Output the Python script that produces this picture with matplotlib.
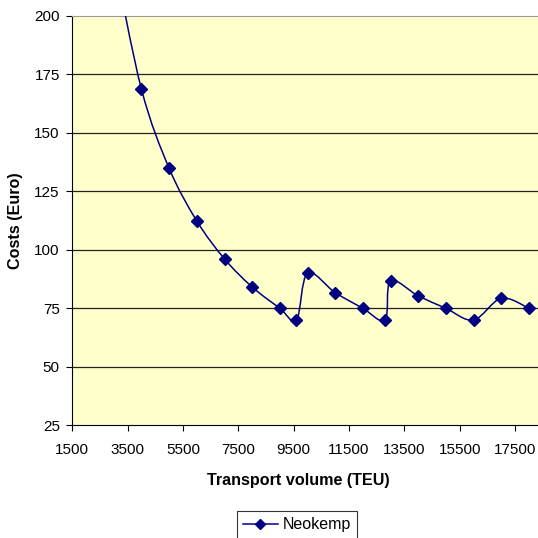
import matplotlib
matplotlib.use("Agg")
import matplotlib.pyplot as plt
from matplotlib.path import Path
from matplotlib.patches import PathPatch
from matplotlib.lines import Line2D

plt.rcParams['font.family'] = ['Liberation Sans', 'DejaVu Sans']

# data
volume = [3000, 4000, 5000, 6000, 7000, 8000, 9000, 9600, 10000, 11000,
          12000, 12800, 13000, 14000, 15000, 16000, 17000, 18000]
costs = [225, 168.6, 134.8, 112.3, 96.1, 84.1, 75, 70, 90, 81.7,
         75, 70, 86.7, 80.3, 75, 70, 79.3, 75]
xticks = [1500, 3500, 5500, 7500, 9500, 11500, 13500, 15500, 17500]
yticks = [25, 50, 75, 100, 125, 150, 175, 200]

navy = '#000080'


def smooth_path(xs, ys, k=1.0 / 6):
    # excel-like smoothed line: cubic bezier through every point
    pts = list(zip(xs, ys))
    verts = [pts[0]]
    codes = [Path.MOVETO]
    n = len(pts)
    for i in range(n - 1):
        p0 = pts[i - 1] if i > 0 else pts[i]
        p1 = pts[i]
        p2 = pts[i + 1]
        p3 = pts[i + 2] if i + 2 < n else pts[i + 1]
        c1 = (p1[0] + (p2[0] - p0[0]) * k, p1[1] + (p2[1] - p0[1]) * k)
        c2 = (p2[0] - (p3[0] - p1[0]) * k, p2[1] - (p3[1] - p1[1]) * k)
        verts += [c1, c2, p2]
        codes += [Path.CURVE4] * 3
    return Path(verts, codes)


fig = plt.figure(figsize=(5.38, 5.38), dpi=100)
W = H = 538.0
left, right = 72.3, 538.0
top, bottom = 15.8, 425.3
ax = fig.add_axes([left / W, 1 - bottom / H, (right - left) / W, (bottom - top) / H])
ax.set_facecolor('#FFFFCC')

ax.add_patch(PathPatch(smooth_path(volume, costs), facecolor='none',
                       edgecolor=navy, lw=1.1, zorder=3))
ax.plot(volume, costs, linestyle='none', marker='D', ms=6,
        color=navy, zorder=4)

ax.set_xlim(1500, 1500 + (right - left) / 55.35 * 2000)
ax.set_ylim(25, 200)
ax.set_xticks(xticks)
ax.set_yticks(yticks)
ax.set_xticklabels([str(t) for t in xticks])
for t in yticks[1:-1]:
    ax.axhline(t, color='#222222', lw=0.9, zorder=1)

ax.spines['right'].set_visible(False)
ax.spines['top'].set_color('#999999')
ax.spines['left'].set_color('black')
ax.spines['bottom'].set_color('black')
ax.tick_params(axis='both', direction='out', length=4, width=0.8,
               labelsize=11, color='black')
ax.tick_params(axis='x', pad=9)
ax.tick_params(axis='y', pad=5)

fig.text(298.5 / W, 1 - 480 / H, 'Transport volume (TEU)', ha='center',
         va='center', fontsize=11.6, fontweight='bold')
fig.text(15.5 / W, 1 - 220.5 / H, 'Costs (Euro)', ha='center', va='center',
         rotation=90, fontsize=11.6, fontweight='bold')

handle = Line2D([], [], color=navy, marker='D', ms=5.5, lw=1.1)
leg = fig.legend([handle], ['Neokemp'], loc='center',
                 bbox_to_anchor=(297 / W, 1 - 525 / H), fontsize=11.5,
                 frameon=True, fancybox=False, handlelength=2.2,
                 handletextpad=0.3, borderpad=0.4)
leg.get_frame().set_edgecolor('black')
leg.get_frame().set_linewidth(0.8)

fig.savefig('out.png', dpi=100)
